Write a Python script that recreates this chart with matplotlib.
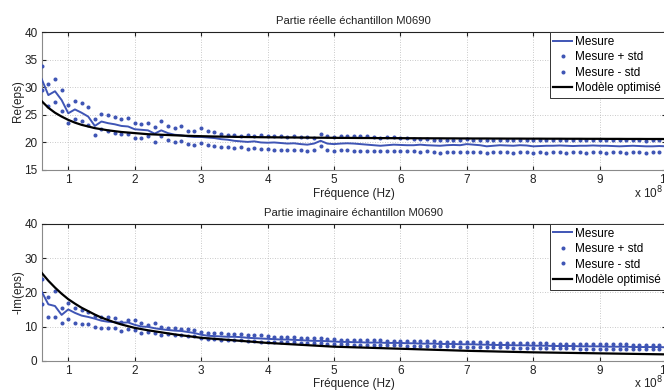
import numpy as np
import matplotlib
matplotlib.use("Agg")
import matplotlib.pyplot as plt

plt.rcParams['font.family'] = ['Liberation Sans', 'DejaVu Sans']

# frequency axis (x 1e8 Hz)
freq = np.linspace(0.6, 10.0, 95)

re_mean = [31.5, 28.6, 29.3, 27.7, 25.3, 26.0, 25.4, 24.7, 23.0, 23.8, 23.5, 23.3, 23.0, 22.9, 22.4, 22.3, 22.2, 21.6, 22.2, 21.7, 21.4, 21.3, 21.1, 21.0, 21.0,
           20.9, 20.8, 20.6, 20.5, 20.3, 20.2, 20.1, 20.2, 20.0, 19.95,
           20.0, 19.9, 19.8, 19.85, 19.7, 19.6, 19.8, 20.3, 19.8, 19.7,
           19.8, 19.85, 19.8, 19.7, 19.6, 19.5, 19.4, 19.5, 19.6, 19.55,
           19.5, 19.5, 19.6, 19.5, 19.45, 19.4, 19.5, 19.55, 19.5, 19.7,
           19.6, 19.5, 19.3, 19.4, 19.5, 19.45, 19.4, 19.5, 19.45, 19.3,
           19.35, 19.4, 19.4, 19.45, 19.4, 19.35, 19.4, 19.4, 19.45, 19.4,
           19.4, 19.35, 19.3, 19.35, 19.4, 19.35, 19.3, 19.3, 19.35, 19.3]
re_plus = [33.8, 30.6, 31.5, 29.5, 26.8, 27.6, 27.1, 26.4, 24.3, 25.2, 24.9, 24.6, 24.3, 24.4, 23.5, 23.4, 23.5, 22.8, 23.9, 22.9, 22.7, 22.9, 22.1, 22.1, 22.6,
           22.0, 21.9, 21.5, 21.3, 21.4, 21.2, 21.3, 21.2, 21.3, 21.2,
           21.1, 21.1, 21.0, 21.1, 21.0, 21.0, 20.9, 21.5, 21.1, 21.0,
           21.1, 21.2, 21.2, 21.1, 21.1, 21.0, 20.9, 21.0, 21.0, 20.9,
           20.8, 20.7, 20.6, 20.6, 20.5, 20.5, 20.5, 20.4, 20.5, 20.6,
           20.5, 20.5, 20.4, 20.5, 20.4, 20.5, 20.4, 20.4, 20.5, 20.4,
           20.4, 20.5, 20.4, 20.4, 20.5, 20.4, 20.4, 20.5, 20.4, 20.4,
           20.4, 20.4, 20.5, 20.4, 20.4, 20.4, 20.3, 20.4, 20.4, 20.4]
re_minus = [29.5, 26.6, 27.4, 25.7, 23.6, 24.3, 23.9, 23.2, 21.4, 22.4, 22.1, 21.8, 21.5, 21.6, 20.9, 20.75, 21.1, 20.1, 21.1, 20.4, 20.1, 20.3, 19.7, 19.6, 19.9,
            19.6, 19.4, 19.1, 19.1, 19.0, 19.1, 18.9, 19.0, 18.8, 18.9,
            18.7, 18.7, 18.6, 18.7, 18.6, 18.5, 18.6, 19.3, 18.6, 18.5,
            18.6, 18.6, 18.5, 18.5, 18.5, 18.4, 18.4, 18.5, 18.4, 18.5,
            18.4, 18.4, 18.3, 18.4, 18.3, 18.1, 18.2, 18.2, 18.3, 18.2,
            18.2, 18.3, 18.1, 18.2, 18.2, 18.2, 18.1, 18.2, 18.2, 18.1,
            18.2, 18.1, 18.2, 18.2, 18.1, 18.2, 18.2, 18.1, 18.2, 18.2,
            18.1, 18.2, 18.2, 18.1, 18.2, 18.2, 18.1, 18.2, 18.2, 18.1]
re_model = [27.5, 26.3, 25.4, 24.7, 24.1, 23.6, 23.2, 22.9, 22.6, 22.4, 22.2, 22.05, 21.9, 21.8, 21.7, 21.6, 21.5, 21.45, 21.4, 21.35, 21.3, 21.25, 21.2, 21.17, 21.14,
            21.11, 21.08, 21.06, 21.04, 21.02, 21.0, 20.98, 20.97, 20.95, 20.94,
            20.93, 20.92, 20.91, 20.9, 20.89, 20.88, 20.87, 20.86, 20.85, 20.84,
            20.83, 20.83, 20.82, 20.81, 20.81, 20.8, 20.79, 20.79, 20.78, 20.78,
            20.77, 20.77, 20.76, 20.76, 20.75, 20.75, 20.74, 20.74, 20.73, 20.73,
            20.72, 20.72, 20.72, 20.71, 20.71, 20.7, 20.7, 20.7, 20.69, 20.69,
            20.69, 20.68, 20.68, 20.68, 20.67, 20.67, 20.67, 20.66, 20.66, 20.66,
            20.65, 20.65, 20.65, 20.64, 20.64, 20.64, 20.63, 20.63, 20.63, 20.62]

im_mean = [20.2, 16.5, 16.0, 13.4, 15.0, 14.0, 13.2, 12.8, 12.3, 11.7, 11.4, 11.3, 11.1, 11.2, 10.5, 10.0, 9.9, 9.5, 9.2, 9.0, 8.8, 8.7, 8.4, 8.1, 7.6,
           7.3, 7.2, 7.1, 7.0, 7.0, 6.9, 6.7, 6.6, 6.5, 6.4,
           6.3, 6.2, 6.2, 6.1, 6.0, 5.9, 5.8, 5.8, 5.7, 5.6,
           5.5, 5.5, 5.4, 5.4, 5.3, 5.3, 5.3, 5.2, 5.2, 5.2,
           5.1, 5.1, 5.0, 5.0, 5.0, 4.9, 4.9, 4.9, 4.8, 4.8,
           4.8, 4.7, 4.7, 4.6, 4.6, 4.6, 4.5, 4.5, 4.5, 4.4,
           4.4, 4.4, 4.3, 4.3, 4.3, 4.3, 4.2, 4.2, 4.2, 4.2,
           4.1, 4.1, 4.1, 4.1, 4.0, 4.0, 4.0, 4.0, 4.0, 3.9]
im_plus = [23.9, 18.7, 20.5, 15.5, 16.8, 15.3, 14.8, 14.2, 13.2, 12.9, 12.7, 12.6, 11.3, 11.8, 12.0, 10.9, 10.4, 10.9, 9.8, 9.6, 9.5, 9.4, 9.2, 8.9, 8.5,
           8.2, 8.1, 8.0, 7.9, 7.8, 7.8, 7.6, 7.5, 7.4, 7.2,
           7.0, 6.9, 6.9, 6.8, 6.7, 6.6, 6.5, 6.5, 6.4, 6.3,
           6.2, 6.2, 6.1, 6.1, 6.0, 6.0, 6.0, 5.9, 5.9, 5.9,
           5.8, 5.8, 5.7, 5.7, 5.7, 5.6, 5.6, 5.6, 5.5, 5.5,
           5.5, 5.4, 5.4, 5.3, 5.3, 5.3, 5.2, 5.2, 5.2, 5.1,
           5.1, 5.1, 5.0, 5.0, 5.0, 5.0, 4.9, 4.9, 4.9, 4.9,
           4.8, 4.8, 4.8, 4.8, 4.7, 4.7, 4.7, 4.7, 4.7, 4.6]
im_minus = [16.5, 12.9, 12.7, 10.9, 12.2, 11.0, 10.6, 10.6, 10.0, 9.7, 9.7, 9.5, 8.7, 9.3, 9.0, 8.2, 8.5, 8.2, 7.5, 7.7, 7.5, 7.5, 7.3, 7.1, 6.7,
            6.4, 6.3, 6.2, 6.1, 6.1, 6.0, 5.8, 5.7, 5.6, 5.6,
            5.6, 5.5, 5.5, 5.4, 5.3, 5.2, 5.1, 5.1, 5.0, 4.9,
            4.8, 4.8, 4.7, 4.7, 4.6, 4.6, 4.6, 4.5, 4.5, 4.5,
            4.4, 4.4, 4.3, 4.3, 4.3, 4.2, 4.2, 4.2, 4.1, 4.1,
            4.1, 4.0, 4.0, 3.9, 3.9, 3.9, 3.8, 3.8, 3.8, 3.7,
            3.7, 3.7, 3.6, 3.6, 3.6, 3.6, 3.5, 3.5, 3.5, 3.5,
            3.4, 3.4, 3.4, 3.4, 3.3, 3.3, 3.3, 3.3, 3.3, 3.2]
im_model = [25.7, 23.4, 21.4, 19.6, 18.0, 16.7, 15.5, 14.5, 13.5, 12.6, 11.9, 11.2, 10.6, 10.1, 9.6, 9.25, 8.9, 8.6, 8.3, 8.0, 7.7, 7.45, 7.2, 6.95, 6.7,
            6.55, 6.4, 6.25, 6.1, 5.95, 5.8, 5.65, 5.5, 5.35, 5.2,
            5.09, 4.98, 4.87, 4.76, 4.65, 4.54, 4.43, 4.32, 4.21, 4.1,
            4.04, 3.98, 3.92, 3.86, 3.8, 3.74, 3.68, 3.62, 3.56, 3.5,
            3.44, 3.38, 3.32, 3.26, 3.2, 3.14, 3.08, 3.02, 2.96, 2.9,
            2.85, 2.81, 2.76, 2.72, 2.67, 2.63, 2.58, 2.54, 2.49, 2.45,
            2.42, 2.39, 2.36, 2.33, 2.3, 2.27, 2.24, 2.21, 2.18, 2.15,
            2.12, 2.09, 2.06, 2.03, 2.0, 1.97, 1.94, 1.91, 1.88, 1.85]

xticks = [1, 2, 3, 4, 5, 6, 7, 8, 9, 10]
labels = ["Mesure", "Mesure + std", "Mesure - std", "Modèle optimisé"]

BLUE = "#3f55b5"
W, H = 664, 390
fig = plt.figure(figsize=(W / 100, H / 100), dpi=100)

def make_ax(top_px, bot_px, mean, plus, minus, model, ylim, yticks, title, ylabel):
    left_px, right_px = 41.7, 666.0
    ax = fig.add_axes([left_px / W, 1 - bot_px / H, (right_px - left_px) / W, (bot_px - top_px) / H])
    ax.plot(freq, mean, color=BLUE, lw=1.4, label=labels[0], zorder=3)
    ax.plot(freq, plus, ls='none', marker='o', ms=1.9, color=BLUE, mec=BLUE, label=labels[1], zorder=3)
    ax.plot(freq, minus, ls='none', marker='o', ms=1.9, color=BLUE, mec=BLUE, label=labels[2], zorder=3)
    ax.plot(freq, model, color='black', lw=1.6, label=labels[3], zorder=4)
    ax.set_xlim(0.6, 10.0)
    ax.set_ylim(*ylim)
    ax.set_xticks(xticks)
    ax.set_xticklabels([str(t) for t in xticks])
    ax.set_yticks(yticks)
    ax.grid(True, ls=(0, (1, 2)), color='#b8b8b8', lw=0.6)
    ax.tick_params(direction='in', length=3, labelsize=8.5, colors='#222222', pad=3,
                   top=True, right=True)
    for s in ['left', 'bottom']:
        ax.spines[s].set_color('#8a8a8a')
    for s in ['top', 'right']:
        ax.spines[s].set_color('#222222')
    for s in ax.spines.values():
        s.set_linewidth(0.8)
    ax.set_title(title, fontsize=8.1, pad=6, color='#222222')
    ax.set_xlabel("Fréquence (Hz)", fontsize=8.5, labelpad=1, color='#222222')
    ax.set_ylabel(ylabel, fontsize=8.5, labelpad=0, color='#222222')
    leg = ax.legend(loc='upper right', bbox_to_anchor=((664 - left_px) / (right_px - left_px), 1.0),
                    borderaxespad=0, fontsize=8.5, numpoints=1, handlelength=1.6,
                    handletextpad=0.2, labelspacing=0.3, borderpad=0.3,
                    fancybox=False, framealpha=1, edgecolor='#333333')
    leg.get_frame().set_linewidth(0.7)
    return ax

make_ax(32.3, 170.0, re_mean, re_plus, re_minus, re_model, (15, 40), [15, 20, 25, 30, 35, 40],
        "Partie réelle échantillon M0690", "Re(eps)")
make_ax(224.0, 360.7, im_mean, im_plus, im_minus, im_model, (0, 40), [0, 10, 20, 30, 40],
        "Partie imaginaire échantillon M0690", "-Im(eps)")

fig.text(0.999, 1 - 193 / H, r"x 10$^{8}$", ha='right', va='center', fontsize=8.5, color='#222222')
fig.text(0.999, 1 - 383 / H, r"x 10$^{8}$", ha='right', va='center', fontsize=8.5, color='#222222')

fig.savefig("out.png", dpi=100)
